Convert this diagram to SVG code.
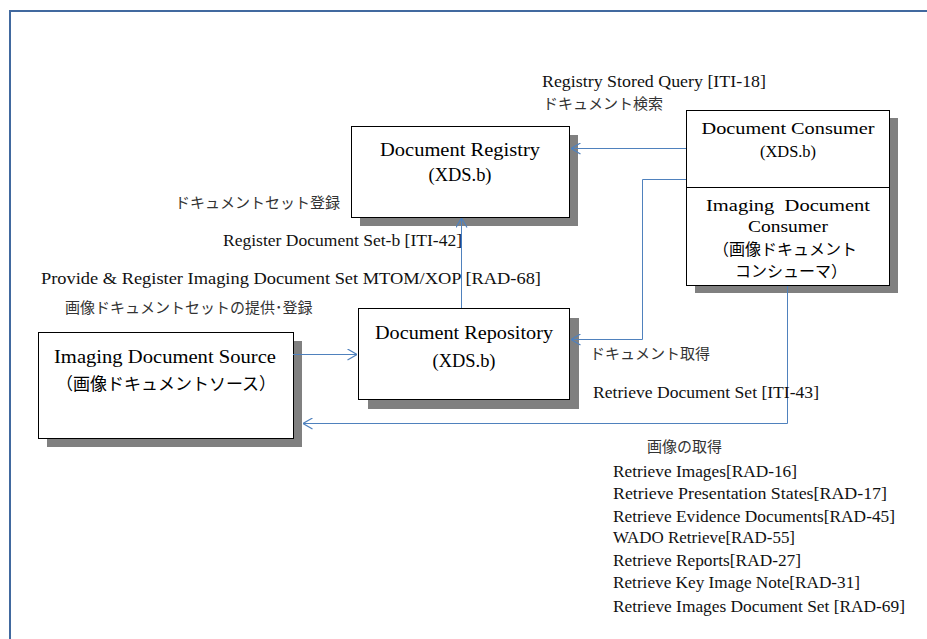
<svg xmlns="http://www.w3.org/2000/svg" width="927" height="639" viewBox="0 0 927 639">
<style>
.frame{fill:none;stroke:#41699f;stroke-width:2}
.box{fill:#fff;stroke:#000;stroke-width:1}
.shadow{fill:#808080}
.node{font-family:"Liberation Serif","DejaVu Serif","Noto Sans CJK JP",serif;fill:#000;text-anchor:middle}
.jp{font-family:"Noto Sans CJK JP",sans-serif;fill:#000;text-anchor:middle}
.lbl{font-family:"Liberation Serif","DejaVu Serif","Noto Sans CJK JP",serif;font-size:16px;fill:#111}
.jlbl{font-family:"Liberation Serif","DejaVu Serif","Noto Sans CJK JP",serif;font-size:15px;fill:#333}
.conn{fill:none;stroke:#4f81bd;stroke-width:1}
</style>
<defs>
<marker id="arr" viewBox="0 0 10 12" refX="10" refY="6" markerWidth="10" markerHeight="12" markerUnits="userSpaceOnUse" orient="auto">
<path d="M0.5,0.5 L10,6 L0.5,11.5" fill="none" stroke="#4f81bd" stroke-width="1.2"/>
</marker>
</defs>
<rect width="927" height="639" fill="#fff"/>
<rect class="frame" x="10" y="11" width="1000" height="1000"/>

<g id="document-registry">
<rect class="shadow" x="360" y="135" width="218" height="91"/>
<rect class="box" x="351.5" y="126.5" width="218" height="91"/>
<text class="node" x="460" y="156" font-size="19" textLength="160" lengthAdjust="spacingAndGlyphs">Document Registry</text>
<text class="node" x="460" y="181" font-size="19" textLength="63" lengthAdjust="spacingAndGlyphs">(XDS.b)</text>
</g>

<g id="document-consumer">
<rect class="shadow" x="695" y="118" width="203" height="175"/>
<rect class="box" x="686.5" y="110.5" width="203" height="175"/>
<line x1="686.5" y1="187.5" x2="889.5" y2="187.5" stroke="#000" stroke-width="1"/>
<text class="node" x="788" y="134" font-size="16" textLength="173" lengthAdjust="spacingAndGlyphs">Document Consumer</text>
<text class="node" x="788" y="157" font-size="16" textLength="56" lengthAdjust="spacingAndGlyphs">(XDS.b)</text>
<text class="node" x="788" y="211" font-size="16" textLength="164" lengthAdjust="spacingAndGlyphs" xml:space="preserve">Imaging  Document</text>
<text class="node" x="788" y="232" font-size="16" textLength="80" lengthAdjust="spacingAndGlyphs">Consumer</text>
<text class="jp" x="785" y="255" font-size="16">（画像ドキュメント</text>
<text class="jp" x="791" y="277" font-size="16">コンシューマ）</text>
</g>

<g id="imaging-document-source">
<rect class="shadow" x="47" y="341" width="255" height="106"/>
<rect class="box" x="38.5" y="332.5" width="255" height="106"/>
<text class="node" x="165" y="363" font-size="19" textLength="222" lengthAdjust="spacingAndGlyphs">Imaging Document Source</text>
<text class="jp" x="166" y="390" font-size="17">（画像ドキュメントソース）</text>
</g>

<g id="document-repository">
<rect class="shadow" x="368" y="318" width="211" height="91"/>
<rect class="box" x="358.5" y="308.5" width="211" height="91"/>
<text class="node" x="464" y="339" font-size="19" textLength="178" lengthAdjust="spacingAndGlyphs">Document Repository</text>
<text class="node" x="464" y="367" font-size="19" textLength="63" lengthAdjust="spacingAndGlyphs">(XDS.b)</text>
</g>

<g id="connectors">
<path class="conn" d="M686,148.5 H571" marker-end="url(#arr)"/>
<path class="conn" d="M686,179.5 H642.5 V339.5 H571" marker-end="url(#arr)"/>
<path class="conn" d="M461.5,308 V218" marker-end="url(#arr)"/>
<path class="conn" d="M293,354.5 H357" marker-end="url(#arr)"/>
<path class="conn" d="M787.5,286 V423.5 H303" marker-end="url(#arr)"/>
</g>

<g id="labels">
<text class="lbl" x="542" y="87" textLength="224" lengthAdjust="spacingAndGlyphs">Registry Stored Query [ITI-18]</text>
<text class="jlbl" x="543" y="109">ドキュメント検索</text>
<text class="jlbl" x="175" y="208">ドキュメントセット登録</text>
<text class="lbl" x="223" y="246" textLength="239" lengthAdjust="spacingAndGlyphs">Register Document Set-b [ITI-42]</text>
<text class="lbl" x="41" y="284" textLength="500" lengthAdjust="spacingAndGlyphs">Provide &amp; Register Imaging Document Set MTOM/XOP [RAD-68]</text>
<text class="jlbl" x="65" y="313">画像ドキュメントセットの提供･登録</text>
<text class="jlbl" x="590" y="359">ドキュメント取得</text>
<text class="lbl" x="593" y="398" textLength="226" lengthAdjust="spacingAndGlyphs">Retrieve Document Set [ITI-43]</text>
<text class="jlbl" x="647" y="452">画像の取得</text>
<text class="lbl" x="613" y="477" textLength="184" lengthAdjust="spacingAndGlyphs">Retrieve Images[RAD-16]</text>
<text class="lbl" x="613" y="499" textLength="274" lengthAdjust="spacingAndGlyphs">Retrieve Presentation States[RAD-17]</text>
<text class="lbl" x="613" y="522" textLength="282" lengthAdjust="spacingAndGlyphs">Retrieve Evidence Documents[RAD-45]</text>
<text class="lbl" x="613" y="543" textLength="182" lengthAdjust="spacingAndGlyphs">WADO Retrieve[RAD-55]</text>
<text class="lbl" x="613" y="566" textLength="188" lengthAdjust="spacingAndGlyphs">Retrieve Reports[RAD-27]</text>
<text class="lbl" x="613" y="588" textLength="247" lengthAdjust="spacingAndGlyphs">Retrieve Key Image Note[RAD-31]</text>
<text class="lbl" x="613" y="612" textLength="292" lengthAdjust="spacingAndGlyphs">Retrieve Images Document Set [RAD-69]</text>
</g>
</svg>
